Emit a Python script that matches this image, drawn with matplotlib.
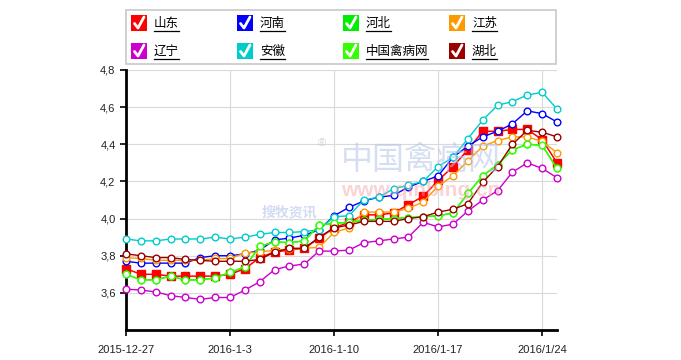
import numpy as np
import pandas as pd
import matplotlib
matplotlib.use("Agg")
from matplotlib import pyplot as plt
from matplotlib.patches import Rectangle

plt.rcParams['font.family'] = ['Liberation Sans', 'Noto Sans CJK SC', 'DejaVu Sans']

# daily prices, 2015-12-27 .. 2016-01-25
dates = pd.date_range("2015-12-27", "2016-01-25")

shandong = [3.73, 3.70, 3.70, 3.69, 3.69, 3.69, 3.69, 3.70, 3.73, 3.79,
            3.82, 3.83, 3.84, 3.895, 3.95, 3.98, 4.02, 4.02, 4.03, 4.075,
            4.12, 4.205, 4.28, 4.37, 4.47, 4.47, 4.48, 4.48, 4.425, 4.30]
henan = [3.77, 3.76, 3.76, 3.76, 3.76, 3.79, 3.80, 3.80, 3.81, 3.83,
         3.885, 3.895, 3.91, 3.94, 4.015, 4.06, 4.095, 4.115, 4.125, 4.17,
         4.20, 4.23, 4.33, 4.39, 4.44, 4.47, 4.51, 4.58, 4.565, 4.52]
hebei = [3.70, 3.67, 3.67, 3.69, 3.67, 3.67, 3.68, 3.71, 3.74, 3.85,
         3.875, 3.87, 3.88, 3.965, 3.975, 3.98, 3.99, 3.995, 4.0, 4.005,
         4.01, 4.015, 4.03, 4.135, 4.23, 4.29, 4.37, 4.40, 4.395, 4.27]
jiangsu = [3.79, 3.785, 3.775, 3.775, 3.775, 3.775, 3.785, 3.785, 3.815, 3.82,
           3.83, 3.835, 3.84, 3.845, 3.925, 3.95, 4.035, 4.035, 4.035, 4.055,
           4.09, 4.175, 4.23, 4.31, 4.39, 4.42, 4.44, 4.44, 4.415, 4.355]
liaoning = [3.62, 3.615, 3.605, 3.585, 3.575, 3.565, 3.575, 3.575, 3.615, 3.66,
            3.725, 3.745, 3.755, 3.825, 3.825, 3.83, 3.87, 3.88, 3.89, 3.90,
            3.98, 3.955, 3.97, 4.04, 4.10, 4.15, 4.25, 4.30, 4.27, 4.22]
anhui = [3.89, 3.88, 3.88, 3.89, 3.89, 3.89, 3.90, 3.89, 3.90, 3.915,
         3.925, 3.925, 3.93, 3.94, 4.01, 4.015, 4.10, 4.115, 4.16, 4.18,
         4.20, 4.28, 4.33, 4.43, 4.53, 4.61, 4.63, 4.665, 4.68, 4.59]
qinbing = [3.70, 3.67, 3.67, 3.69, 3.67, 3.67, 3.68, 3.71, 3.74, 3.85,
           3.875, 3.87, 3.88, 3.965, 3.975, 3.98, 3.99, 3.995, 4.0, 4.005,
           4.01, 4.015, 4.03, 4.135, 4.23, 4.29, 4.37, 4.40, 4.395, 4.27]
hubei = [3.81, 3.80, 3.79, 3.79, 3.78, 3.775, 3.77, 3.77, 3.77, 3.78,
         3.82, 3.84, 3.84, 3.90, 3.95, 3.965, 3.985, 3.985, 3.985, 4.0,
         4.01, 4.035, 4.05, 4.08, 4.195, 4.28, 4.40, 4.475, 4.465, 4.44]

names = ["山东", "河南", "河北", "江苏", "辽宁", "安徽", "中国禽病网", "湖北"]
colors = ["#ff0000", "#0000ff", "#00ee00", "#ff9900",
          "#cc00cc", "#00cccc", "#33ff00", "#990000"]
series = [shandong, henan, hebei, jiangsu, liaoning, anhui, qinbing, hubei]

tick_dates = pd.to_datetime(["2015-12-27", "2016-01-03", "2016-01-10",
                             "2016-01-17", "2016-01-24"])
tick_labels = ["2015-12-27", "2016-1-3", "2016-1-10", "2016/1-17", "2016/1/24"]
y_ticks = [3.6, 3.8, 4.0, 4.2, 4.4, 4.6, 4.8]
y_labels = ["3,6", "3,8", "4,0", "4,2", "4,4", "4,6", "4,8"]

fig = plt.figure(figsize=(6.81, 3.60), dpi=100)
ax = fig.add_axes([126 / 681, 1 - 330 / 360, 431 / 681, 260 / 360])

# faint watermark
fig.text(0.618, 0.555, "中国禽病网", fontsize=23, color="#b4c4e8", alpha=0.55,
         ha="center", va="center", family=["Noto Sans CJK SC"], zorder=0)
fig.text(0.618, 0.472, "www.qinbing.cn", fontsize=15, color="#f4a0a0", alpha=0.45,
         ha="center", va="center", weight="bold", zorder=0)
fig.text(0.425, 0.41, "搜牧资讯", fontsize=10, color="#b4c4e8", alpha=0.6,
         ha="center", va="center", family=["Noto Sans CJK SC"], weight="bold", zorder=0)
fig.text(0.473, 0.602, "®", fontsize=8, color="#bbbbbb", alpha=0.6,
         ha="center", va="center", zorder=0)
ax.patch.set_alpha(0)

# draw order: light green under dark green
order = [6, 7, 4, 3, 5, 1, 2, 0]
for k in order:
    if k == 0:
        ax.plot(dates, series[k], color=colors[k], lw=1.1, marker="s",
                markersize=5.5, markerfacecolor=colors[k], markeredgecolor=colors[k],
                clip_on=False, zorder=3 + k)
    else:
        ax.plot(dates, series[k], color=colors[k], lw=1.0, marker="o",
                markersize=4.8, markerfacecolor="white", markeredgecolor=colors[k],
                markeredgewidth=1.0, clip_on=False, zorder=3 + k)

ax.set_xlim(dates[0], dates[-1])
ax.set_ylim(3.4, 4.8)
ax.set_yticks(y_ticks)
ax.set_yticklabels(y_labels)
ax.set_xticks(tick_dates)
ax.set_xticklabels(tick_labels)
ax.grid(True, color="#d9d9d9", lw=0.8)
ax.set_axisbelow(True)

for s in ["top", "right"]:
    ax.spines[s].set_visible(False)
for s in ["left", "bottom"]:
    ax.spines[s].set_linewidth(2)
    ax.spines[s].set_color("black")
ax.tick_params(axis="both", length=4.5, width=1.2, color="black",
               labelsize=8, labelcolor="#222222")
ax.tick_params(axis="x", pad=6)
ax.tick_params(axis="y", pad=3)

# legend box with checkboxes
W, H = 681, 360
fig.patches.append(Rectangle((126 / W, 1 - 64 / H), 430 / W, 54 / H,
                             transform=fig.transFigure, fill=False,
                             edgecolor="#c8c8c8", lw=1.2))
col_x = [131, 237, 343, 449]
row_y = [23, 51]
renderer = fig.canvas.get_renderer()
for k, name in enumerate(names):
    cx = col_x[k % 4]
    cy = row_y[k // 4]
    fig.patches.append(Rectangle((cx / W, 1 - (cy + 8) / H), 16 / W, 16 / H,
                                 transform=fig.transFigure, facecolor=colors[k],
                                 edgecolor="none"))
    # white tick mark
    fig.add_artist(plt.Line2D([(cx + 3.5) / W, (cx + 7) / W, (cx + 13) / W],
                              [1 - (cy + 0.5) / H, 1 - (cy + 5) / H, 1 - (cy - 6) / H],
                              transform=fig.transFigure, color="white", lw=2.0,
                              solid_capstyle="round", solid_joinstyle="round"))
    t = fig.text((cx + 23) / W, 1 - cy / H, name, fontsize=9, color="black",
                 ha="left", va="center", family=["Noto Sans CJK SC"])
    bb = t.get_window_extent(renderer)
    fig.add_artist(plt.Line2D([bb.x0 / W, bb.x1 / W],
                              [1 - (cy + 8) / H, 1 - (cy + 8) / H],
                              transform=fig.transFigure, color="black", lw=0.9))

fig.savefig("out.png", dpi=100)
